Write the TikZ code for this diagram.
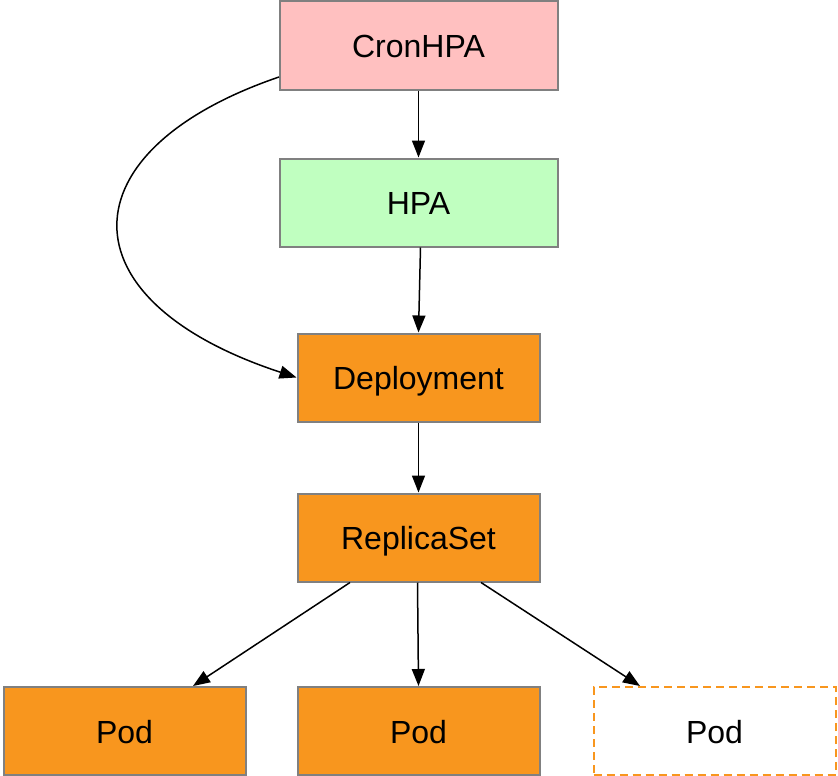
\documentclass[tikz,border=0pt]{standalone}
\usepackage{fontspec}
\setmainfont{Liberation Sans}
\usetikzlibrary{arrows.meta}
\definecolor{pinkfill}{RGB}{255,192,192}
\definecolor{greenfill}{RGB}{192,255,192}
\definecolor{orangefill}{RGB}{248,150,30}
\definecolor{bordergray}{RGB}{128,128,128}
\tikzset{
  box/.style={draw=bordergray, line width=2pt, inner sep=0pt, minimum height=88pt,
    text height=24pt, text depth=0pt,
    font=\fontsize{32}{38}\selectfont},
  wide/.style={box, minimum width=278pt},
  narrow/.style={box, minimum width=242pt},
  conn/.style={line width=1.5pt, -{Triangle[length=17pt,width=13pt]}},
}
\begin{document}
\begin{tikzpicture}[x=1pt,y=-1pt]
\useasboundingbox (0,0) rectangle (838,776);
\node[wide, fill=pinkfill] (cron) at (418.5,45.5) {CronHPA};
\node[wide, fill=greenfill] (hpa) at (418.5,202.5) {HPA};
\node[narrow, fill=orangefill] (dep) at (418.5,377.5) {Deployment};
\node[narrow, fill=orangefill] (rs) at (418.5,537.5) {ReplicaSet};
\node[narrow, fill=orangefill] (pod1) at (124.5,731) {Pod};
\node[narrow, fill=orangefill] (pod2) at (418.5,731) {Pod};
\node[narrow, draw=orangefill, dashed, dash pattern=on 8pt off 5pt, fill=white] (pod3) at (714.5,731) {Pod};
\draw[conn] (cron.south) -- (hpa.north);
\draw[conn] ([xshift=2pt]hpa.south) -- (dep.north);
\draw[conn] (dep.south) -- (rs.north);
\draw[conn] ([xshift=-68.5pt]rs.south) -- ([xshift=68.5pt]pod1.north);
\draw[conn] ([xshift=-1pt]rs.south) -- (pod2.north);
\draw[conn] ([xshift=62.5pt]rs.south) -- ([xshift=-74.5pt]pod3.north);
\coordinate (cs) at (279,77);
\draw[conn] (cs) .. controls (65,150) and (60,300) .. (dep.west);
\end{tikzpicture}
\end{document}
